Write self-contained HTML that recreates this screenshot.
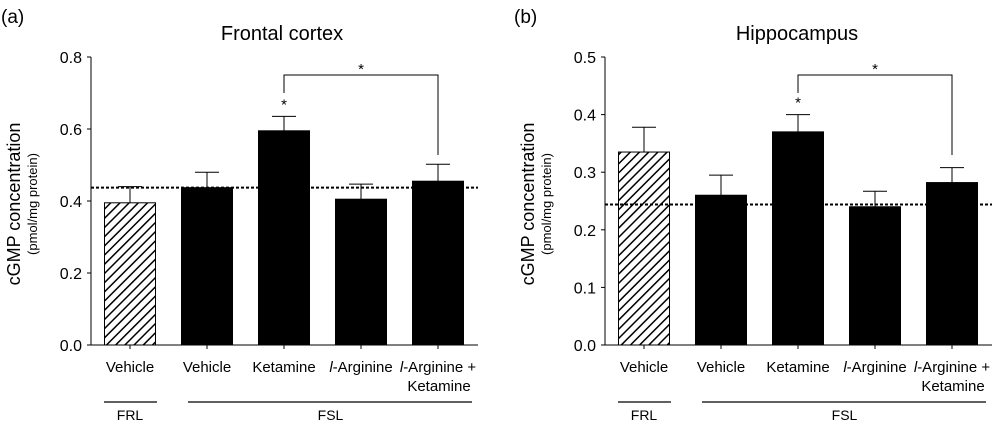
<!DOCTYPE html>
<html><head><meta charset="utf-8"><style>
html,body{margin:0;padding:0;background:#fff}
svg{display:block;font-family:"Liberation Sans",Arial,sans-serif}
</style></head><body>
<svg id="fig" width="998" height="423" viewBox="0 0 998 423">
<defs>
<pattern id="hatch" patternUnits="userSpaceOnUse" width="6.5" height="6.5" patternTransform="rotate(45)">
<rect width="6.5" height="6.5" fill="#fff"/><line x1="0" y1="0" x2="0" y2="6.5" stroke="#000" stroke-width="3"/>
</pattern>
</defs>
</svg>
<script>
const categories = ["Vehicle","Vehicle","Ketamine","l-Arginine","l-Arginine +"];
const frontalValues = [0.395, 0.437, 0.595, 0.405, 0.455];
const frontalErrors = [0.045, 0.043, 0.040, 0.042, 0.047];
const frontalRef = 0.437;
const frontalTicks = ["0.0","0.2","0.4","0.6","0.8"];
const hippoValues = [0.335, 0.260, 0.370, 0.240, 0.282];
const hippoErrors = [0.043, 0.035, 0.030, 0.027, 0.026];
const hippoRef = 0.244;
const hippoTicks = ["0.0","0.1","0.2","0.3","0.4","0.5"];

const NS = "http://www.w3.org/2000/svg";
const svg = document.getElementById('fig');
function mk(tag, attrs, parent, text){
  const e = document.createElementNS(NS, tag);
  for (const k in attrs) e.setAttribute(k, attrs[k]);
  if (text !== undefined) e.textContent = text;
  (parent||svg).appendChild(e); return e;
}
function panel(o){
  const g = mk('g', {});
  
  
  const y0 = 345, y1 = 57, max = parseFloat(o.ticks[o.ticks.length-1]);
  const y = v => y0 - (v/max)*(y0-y1);
  const x = i => o.c0 + i*77;
  const bw = 51;
  let t = mk('text', {x:o.letterX, y:23, 'font-size':19}, g, o.letter);
   
  t = mk('text', {x:o.titleX, y:40, 'font-size':20, 'text-anchor':'middle'}, g, o.title);
   
  t = mk('text', {x:0, y:0, 'font-size':18, 'text-anchor':'middle', transform:`translate(${o.ax-71},${(y0+y1)/2+3}) rotate(-90)`}, g, 'cGMP  concentration');
   
  t = mk('text', {x:0, y:0, 'font-size':13, 'text-anchor':'middle', transform:`translate(${o.ax-54},${(y0+y1)/2+3}) rotate(-90)`}, g, '(pmol/mg protein)');
   
  let l = mk('line', {x1:o.ax, y1:y1, x2:o.ax, y2:y0, stroke:'#000', 'stroke-width':1}, g);
   
  l = mk('line', {x1:o.ax-4, y1:y0, x2:o.axEnd, y2:y0, stroke:'#000', 'stroke-width':1}, g);
   
  o.ticks.forEach(tk => {
    const v = parseFloat(tk);
    const tl = mk('line', {x1:o.ax-4, y1:y(v), x2:o.ax, y2:y(v), stroke:'#000'}, g);
     
    const tt = mk('text', {x:o.ax-9, y:y(v)+6, 'font-size':16, 'text-anchor':'end'}, g, tk);
     
  });
  o.values.forEach((v,i) => {
    const cx = x(i);
    const el = mk('line', {x1:cx, y1:y(v), x2:cx, y2:y(v+o.errors[i]), stroke:'#000'}, g);
     
    const cap = mk('line', {x1:cx-12, y1:y(v+o.errors[i]), x2:cx+12, y2:y(v+o.errors[i]), stroke:'#000'}, g);
     
    const b = mk('rect', {x:cx-bw/2, y:y(v), width:bw, height:y0-y(v), fill: i===0?'url(#hatch)':'#000', stroke:'#000', 'stroke-width':1}, g);
     
    const xt = mk('line', {x1:cx, y1:y0, x2:cx, y2:y0+4, stroke:'#000'}, g);
     
    const lab = mk('text', {x:cx, y:372, 'font-size':15, 'text-anchor':'middle'}, g);
     
    const c = categories[i];
    if (c.startsWith('l-')) {
      mk('tspan', {'font-style':'italic'}, lab, 'l');
      mk('tspan', {}, lab, c.slice(1));
    } else lab.textContent = c;
    if (i===4) {
      const l2 = mk('text', {x:cx+1, y:391, 'font-size':15, 'text-anchor':'middle'}, g, 'Ketamine');
       
    }
  });
  l = mk('line', {x1:o.ax, y1:y(o.ref), x2:o.axEnd, y2:y(o.ref), stroke:'#000', 'stroke-width':2, 'stroke-dasharray':'3,2'}, g);
   
  const p = mk('polyline', {points:`${x(2)},93 ${x(2)},75 ${x(4)},75 ${x(4)},155`, fill:'none', stroke:'#000', 'stroke-width':1}, g);
   
  t = mk('text', {x:(x(2)+x(4))/2, y:74, 'font-size':15, 'text-anchor':'middle'}, g, '*');
   
  t = mk('text', {x:x(2), y:y(o.values[2]+o.errors[2])-7, 'font-size':15, 'text-anchor':'middle'}, g, '*');
   
  l = mk('line', {x1:x(0)-26, y1:402, x2:x(0)+27, y2:402, stroke:'#000', 'stroke-width':1.3}, g);
   
  l = mk('line', {x1:x(1)-19, y1:402, x2:x(4)+34, y2:402, stroke:'#000', 'stroke-width':1.3}, g);
   
  t = mk('text', {x:x(0), y:420, 'font-size':14, 'text-anchor':'middle'}, g, 'FRL');
   
  t = mk('text', {x:(x(1)+x(4))/2+8, y:420, 'font-size':14, 'text-anchor':'middle'}, g, 'FSL');
   
}
panel({name:'frontal-cortex-chart', letter:'(a)', letterX:1, title:'Frontal cortex', titleX:282, ax:91, axEnd:478, c0:130, values:frontalValues, errors:frontalErrors, ref:frontalRef, ticks:frontalTicks});
panel({name:'hippocampus-chart', letter:'(b)', letterX:514, title:'Hippocampus', titleX:797, ax:605, axEnd:992, c0:644, values:hippoValues, errors:hippoErrors, ref:hippoRef, ticks:hippoTicks});
</script>
</body></html>
